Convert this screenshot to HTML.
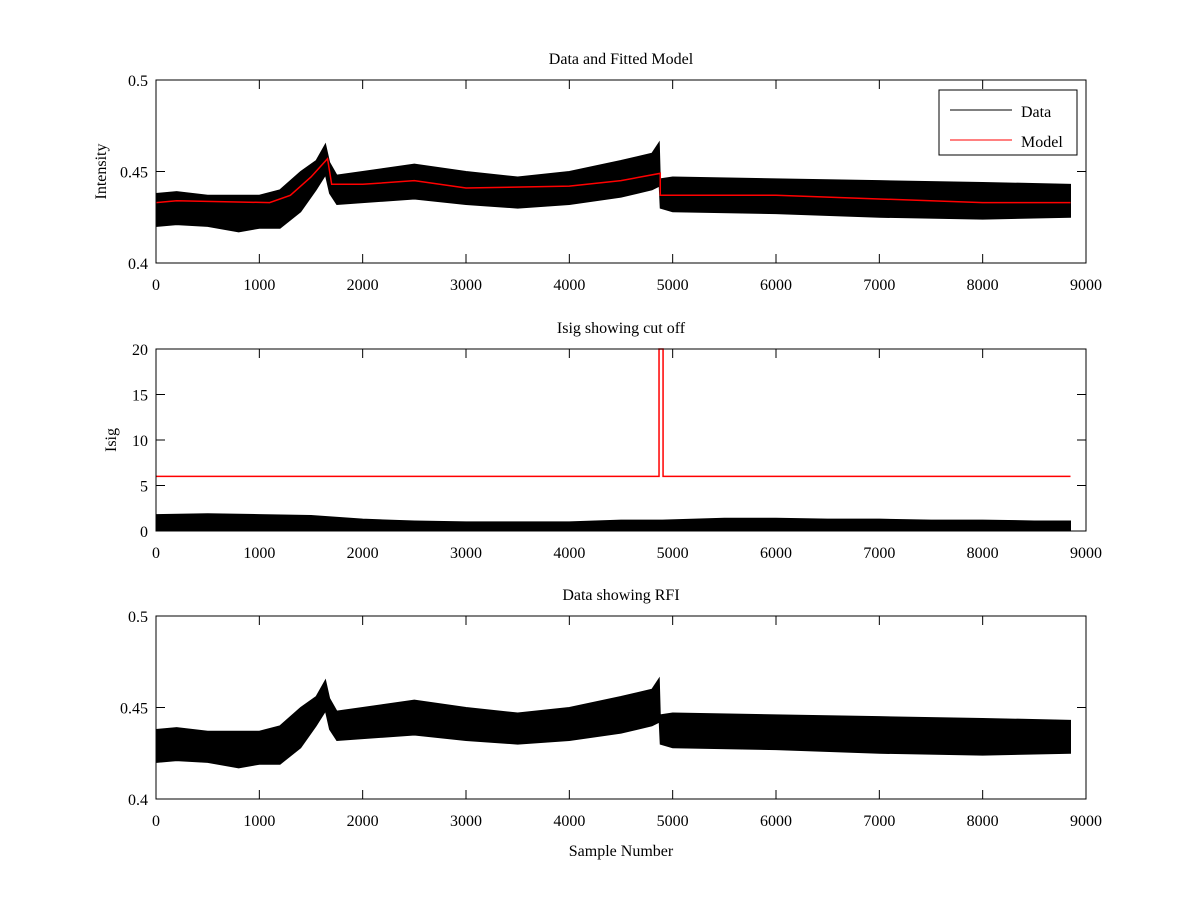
<!DOCTYPE html>
<html><head><meta charset="utf-8"><style>
body{margin:0;background:#fff}
svg{font-family:"Liberation Serif",serif;font-size:16px}
</style></head><body>
<svg id="c" width="1200" height="900" xmlns="http://www.w3.org/2000/svg"></svg>
<script>
const dataX=[0,200,500,800,1000,1200,1400,1550,1640,1680,1750,2000,2500,3000,3500,4000,4500,4800,4870,4880,5000,6000,7000,8000,8850];
const dataUpper=[0.438,0.439,0.437,0.437,0.437,0.440,0.450,0.456,0.465,0.455,0.448,0.450,0.454,0.450,0.447,0.450,0.456,0.460,0.466,0.446,0.447,0.446,0.445,0.444,0.443];
const dataLower=[0.420,0.421,0.420,0.417,0.419,0.419,0.428,0.440,0.448,0.438,0.432,0.433,0.435,0.432,0.430,0.432,0.436,0.440,0.442,0.430,0.428,0.427,0.425,0.424,0.425];
const modelX=[0,200,1100,1300,1500,1660,1700,2000,2500,3000,4000,4500,4880,4880,6000,7000,8000,8850];
const modelY=[0.433,0.434,0.433,0.437,0.447,0.457,0.443,0.443,0.445,0.441,0.442,0.445,0.449,0.437,0.437,0.435,0.433,0.433];
const isigX=[0,500,1000,1500,2000,2500,3000,3500,4000,4500,4900,5500,6000,6500,7000,7500,8000,8500,8850];
const isigUpper=[1.8,1.9,1.8,1.7,1.3,1.1,1.0,1.0,1.0,1.2,1.2,1.4,1.4,1.3,1.3,1.2,1.2,1.1,1.1];
const cutX=[0,4868,4868,4907,4907,8850];
const cutY=[6,6,21,21,6,6];
const xTicks=[0,1000,2000,3000,4000,5000,6000,7000,8000,9000];
const NS="http://www.w3.org/2000/svg";
const svg=document.getElementById('c');
function el(t,a,p){const e=document.createElementNS(NS,t);for(const k in a)e.setAttribute(k,a[k]);(p||svg).appendChild(e);return e;}
const L=156,R=1086;
const sx=v=>L+(v/9000)*(R-L);
function axes(top,bot,ymin,ymax,yt,title,ylab,name){
  const g=el('g',{});
  const sy=v=>bot-(v-ymin)/(ymax-ymin)*(bot-top);
  return {g,sy,finish(){
    el('rect',{x:L,y:top,width:R-L,height:bot-top,fill:'none',stroke:'#000'},g);
    xTicks.forEach(t=>{const x=sx(t);el('line',{x1:x,x2:x,y1:bot,y2:bot-9,stroke:'#000'},g);el('line',{x1:x,x2:x,y1:top,y2:top+9,stroke:'#000'},g);
      const tx=el('text',{x:x,y:bot+27,'text-anchor':'middle'},g);tx.textContent=t;});
    yt.forEach(t=>{const y=sy(t);el('line',{x1:L,x2:L+9,y1:y,y2:y,stroke:'#000'},g);el('line',{x1:R,x2:R-9,y1:y,y2:y,stroke:'#000'},g);
      const tx=el('text',{x:L-8,y:y+6,'text-anchor':'end'},g);tx.textContent=t;});
    const tt=el('text',{x:(L+R)/2,y:top-16,'text-anchor':'middle'},g);tt.textContent=title;
    const yl=el('text',{x:0,y:0,'text-anchor':'middle',transform:`translate(${L-50+ (ylab==='Isig'?10:0)},${(top+bot)/2}) rotate(-90)`},g);yl.textContent=ylab;
  }};
}
function band(ax,xs,up,lo,name){
  let d='M'+xs.map((x,i)=>sx(x)+','+ax.sy(up[i])).join('L');
  for(let i=xs.length-1;i>=0;i--)d+='L'+sx(xs[i])+','+ax.sy(lo[i]);
  const p=el('path',{d:d+'Z',fill:'#000',stroke:'#000','stroke-width':1},ax.g);
}
function line(ax,xs,ys,col,name){
  const p=el('polyline',{points:xs.map((x,i)=>sx(x)+','+Math.max(ax.sy(ys[i]),ax.top||0)).join(' '),fill:'none',stroke:col,'stroke-width':1.5},ax.g);
}
// Plot 1
const a1=axes(80,263,0.4,0.5,[0.4,0.45,0.5],'Data and Fitted Model','Intensity','plot-data-model');
band(a1,dataX,dataUpper,dataLower,'data-series');
line(a1,modelX,modelY,'#f00','model-series');
a1.finish();
const lg=el('g',{});
el('rect',{x:939,y:90,width:138,height:65,fill:'#fff',stroke:'#000'},lg);
el('line',{x1:950,x2:1012,y1:110,y2:110,stroke:'#000'},lg);
el('line',{x1:950,x2:1012,y1:140,y2:140,stroke:'#f00'},lg);
let t=el('text',{x:1021,y:117},lg);t.textContent='Data';
t=el('text',{x:1021,y:147},lg);t.textContent='Model';
// Plot 2
const a2=axes(349,531,0,20,[0,5,10,15,20],'Isig showing cut off','Isig','plot-isig');
a2.top=349;
band(a2,isigX,isigUpper,isigX.map(()=>0),'isig-series');
line(a2,cutX,cutY,'#f00','cutoff-series');
a2.finish();
// Plot 3
const a3=axes(616,799,0.4,0.5,[0.4,0.45,0.5],'Data showing RFI','','plot-rfi');
band(a3,dataX,dataUpper,dataLower,'rfi-data-series');
a3.finish();
const xl=el('text',{x:(L+R)/2,y:856,'text-anchor':'middle'});xl.textContent='Sample Number';


</script>
</body></html>
